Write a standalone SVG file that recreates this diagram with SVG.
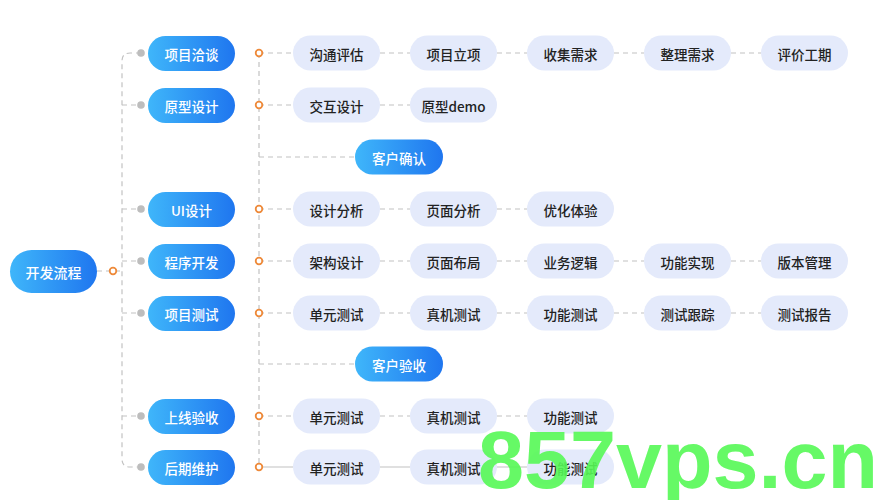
<svg xmlns="http://www.w3.org/2000/svg" width="890" height="500" viewBox="0 0 890 500">
<defs>
<linearGradient id="blue" x1="0" y1="0" x2="1" y2="0">
<stop offset="0" stop-color="#3fb6fa"/>
<stop offset="1" stop-color="#1f76ef"/>
</linearGradient>
<style>
.b{fill:url(#blue)}
.l2{fill:#e4eafb}
.t1{font-family:"Noto Sans CJK SC","Noto Sans",sans-serif;font-size:13.5px;fill:#fff;font-weight:500;text-anchor:middle;dominant-baseline:central}
.t2{font-family:"Noto Sans CJK SC","Noto Sans",sans-serif;font-size:13.5px;fill:#222;font-weight:500;text-anchor:middle;dominant-baseline:central}
.c{fill:none;stroke:#c2c2c2;stroke-width:1.2;stroke-dasharray:5 4}
.s{fill:none;stroke:#c2c2c2;stroke-width:1.2}
.ring{fill:#fff;stroke:#ee8a3a;stroke-width:1.8}
.dot{fill:#bdbdbd}
</style>
</defs>
<rect width="890" height="500" fill="#fff"/>
<g id="connectors">
<path class="c" d="M97,271 H122"/>
<path class="c" d="M141,53 H130 Q122,53 122,61 V459 Q122,467 130,467 H141"/>
<path class="c" d="M122,105 H141 M122,209 H141 M122,261 H141 M122,313 H141 M122,416 H141"/>
<path class="c" d="M259,53 V467"/>
<path class="c" d="M259,53 H293 M380,53 H410 M497,53 H527 M614,53 H644 M731,53 H761"/>
<path class="c" d="M259,105 H293 M380,105 H410"/>
<path class="c" d="M259,157 H355"/>
<path class="c" d="M259,209 H293 M380,209 H410 M497,209 H527"/>
<path class="c" d="M259,261 H293 M380,261 H410 M497,261 H527 M614,261 H644 M731,261 H761"/>
<path class="c" d="M259,313 H293 M380,313 H410 M497,313 H527 M614,313 H644 M731,313 H761"/>
<path class="c" d="M259,364 H355"/>
<path class="c" d="M259,416 H293 M380,416 H410 M497,416 H527"/>
<path class="s" d="M259,467 H293 M380,467 H410 M497,467 H527"/>
<circle class="ring" cx="113" cy="271" r="3.3"/>
<circle class="dot" cx="141" cy="53" r="3.8"/>
<circle class="dot" cx="141" cy="105" r="3.8"/>
<circle class="dot" cx="141" cy="209" r="3.8"/>
<circle class="dot" cx="141" cy="261" r="3.8"/>
<circle class="dot" cx="141" cy="313" r="3.8"/>
<circle class="dot" cx="141" cy="416" r="3.8"/>
<circle class="dot" cx="141" cy="467" r="3.8"/>
<circle class="ring" cx="259" cy="53" r="3.3"/>
<circle class="ring" cx="259" cy="105" r="3.3"/>
<circle class="ring" cx="259" cy="209" r="3.3"/>
<circle class="ring" cx="259" cy="261" r="3.3"/>
<circle class="ring" cx="259" cy="313" r="3.3"/>
<circle class="ring" cx="259" cy="416" r="3.3"/>
<circle class="ring" cx="259" cy="467" r="3.3"/>
</g>
<g id="root"><rect class="b" x="10" y="250" width="87" height="43" rx="21.5"/><text class="t1" x="53.5" y="271.5" style="font-size:14px">开发流程</text></g>
<g id="n-xmqt"><rect class="b" x="148" y="36" width="87" height="35" rx="17.5"/><text class="t1" x="191.5" y="53.5">项目洽谈</text></g>
<g id="n-yxsj"><rect class="b" x="148" y="88" width="87" height="35" rx="17.5"/><text class="t1" x="191.5" y="105.5">原型设计</text></g>
<g id="n-uisj"><rect class="b" x="148" y="192" width="87" height="35" rx="17.5"/><text class="t1" x="191.5" y="209.5">UI设计</text></g>
<g id="n-cxkf"><rect class="b" x="148" y="244" width="87" height="35" rx="17.5"/><text class="t1" x="191.5" y="261.5">程序开发</text></g>
<g id="n-xmcs"><rect class="b" x="148" y="296" width="87" height="35" rx="17.5"/><text class="t1" x="191.5" y="313.5">项目测试</text></g>
<g id="n-sxys"><rect class="b" x="148" y="399" width="87" height="35" rx="17.5"/><text class="t1" x="191.5" y="416.5">上线验收</text></g>
<g id="n-hqwh"><rect class="b" x="148" y="450" width="87" height="35" rx="17.5"/><text class="t1" x="191.5" y="467.5">后期维护</text></g>
<g id="n-khqr"><rect class="b" x="355" y="139.5" width="88" height="35" rx="17.5"/><text class="t1" x="399" y="157.5">客户确认</text></g>
<g id="n-khys"><rect class="b" x="355" y="346.5" width="88" height="35" rx="17.5"/><text class="t1" x="399" y="364.5">客户验收</text></g>
<g id="r1">
<g id="r1c1"><rect class="l2" x="293" y="35.5" width="87" height="35" rx="17.5"/><text class="t2" x="336.5" y="53.5">沟通评估</text></g>
<g id="r1c2"><rect class="l2" x="410" y="35.5" width="87" height="35" rx="17.5"/><text class="t2" x="453.5" y="53.5">项目立项</text></g>
<g id="r1c3"><rect class="l2" x="527" y="35.5" width="87" height="35" rx="17.5"/><text class="t2" x="570.5" y="53.5">收集需求</text></g>
<g id="r1c4"><rect class="l2" x="644" y="35.5" width="87" height="35" rx="17.5"/><text class="t2" x="687.5" y="53.5">整理需求</text></g>
<g id="r1c5"><rect class="l2" x="761" y="35.5" width="87" height="35" rx="17.5"/><text class="t2" x="804.5" y="53.5">评价工期</text></g>
</g>
<g id="r2">
<g id="r2c1"><rect class="l2" x="293" y="87.5" width="87" height="35" rx="17.5"/><text class="t2" x="336.5" y="105.5">交互设计</text></g>
<g id="r2c2"><rect class="l2" x="410" y="87.5" width="87" height="35" rx="17.5"/><text class="t2" x="453.5" y="105.5">原型demo</text></g>
</g>
<g id="r4">
<g id="r4c1"><rect class="l2" x="293" y="191.5" width="87" height="35" rx="17.5"/><text class="t2" x="336.5" y="209.5">设计分析</text></g>
<g id="r4c2"><rect class="l2" x="410" y="191.5" width="87" height="35" rx="17.5"/><text class="t2" x="453.5" y="209.5">页面分析</text></g>
<g id="r4c3"><rect class="l2" x="527" y="191.5" width="87" height="35" rx="17.5"/><text class="t2" x="570.5" y="209.5">优化体验</text></g>
</g>
<g id="r5">
<g id="r5c1"><rect class="l2" x="293" y="243.5" width="87" height="35" rx="17.5"/><text class="t2" x="336.5" y="261.5">架构设计</text></g>
<g id="r5c2"><rect class="l2" x="410" y="243.5" width="87" height="35" rx="17.5"/><text class="t2" x="453.5" y="261.5">页面布局</text></g>
<g id="r5c3"><rect class="l2" x="527" y="243.5" width="87" height="35" rx="17.5"/><text class="t2" x="570.5" y="261.5">业务逻辑</text></g>
<g id="r5c4"><rect class="l2" x="644" y="243.5" width="87" height="35" rx="17.5"/><text class="t2" x="687.5" y="261.5">功能实现</text></g>
<g id="r5c5"><rect class="l2" x="761" y="243.5" width="87" height="35" rx="17.5"/><text class="t2" x="804.5" y="261.5">版本管理</text></g>
</g>
<g id="r6">
<g id="r6c1"><rect class="l2" x="293" y="295.5" width="87" height="35" rx="17.5"/><text class="t2" x="336.5" y="313.5">单元测试</text></g>
<g id="r6c2"><rect class="l2" x="410" y="295.5" width="87" height="35" rx="17.5"/><text class="t2" x="453.5" y="313.5">真机测试</text></g>
<g id="r6c3"><rect class="l2" x="527" y="295.5" width="87" height="35" rx="17.5"/><text class="t2" x="570.5" y="313.5">功能测试</text></g>
<g id="r6c4"><rect class="l2" x="644" y="295.5" width="87" height="35" rx="17.5"/><text class="t2" x="687.5" y="313.5">测试跟踪</text></g>
<g id="r6c5"><rect class="l2" x="761" y="295.5" width="87" height="35" rx="17.5"/><text class="t2" x="804.5" y="313.5">测试报告</text></g>
</g>
<g id="r8">
<g id="r8c1"><rect class="l2" x="293" y="398.5" width="87" height="35" rx="17.5"/><text class="t2" x="336.5" y="416.5">单元测试</text></g>
<g id="r8c2"><rect class="l2" x="410" y="398.5" width="87" height="35" rx="17.5"/><text class="t2" x="453.5" y="416.5">真机测试</text></g>
<g id="r8c3"><rect class="l2" x="527" y="398.5" width="87" height="35" rx="17.5"/><text class="t2" x="570.5" y="416.5">功能测试</text></g>
</g>
<g id="r9">
<g id="r9c1"><rect class="l2" x="293" y="449.5" width="87" height="35" rx="17.5"/><text class="t2" x="336.5" y="467.5">单元测试</text></g>
<g id="r9c2"><rect class="l2" x="410" y="449.5" width="87" height="35" rx="17.5"/><text class="t2" x="453.5" y="467.5">真机测试</text></g>
<g id="r9c3"><rect class="l2" x="527" y="449.5" width="87" height="35" rx="17.5"/><text class="t2" x="570.5" y="467.5">功能测试</text></g>
</g>
<text x="478" y="488" textLength="400" lengthAdjust="spacingAndGlyphs" style="font-family:'Liberation Sans',Arial,sans-serif;font-weight:bold;font-size:82px;fill:#55f855;fill-opacity:0.9">857vps.cn</text>
</svg>
